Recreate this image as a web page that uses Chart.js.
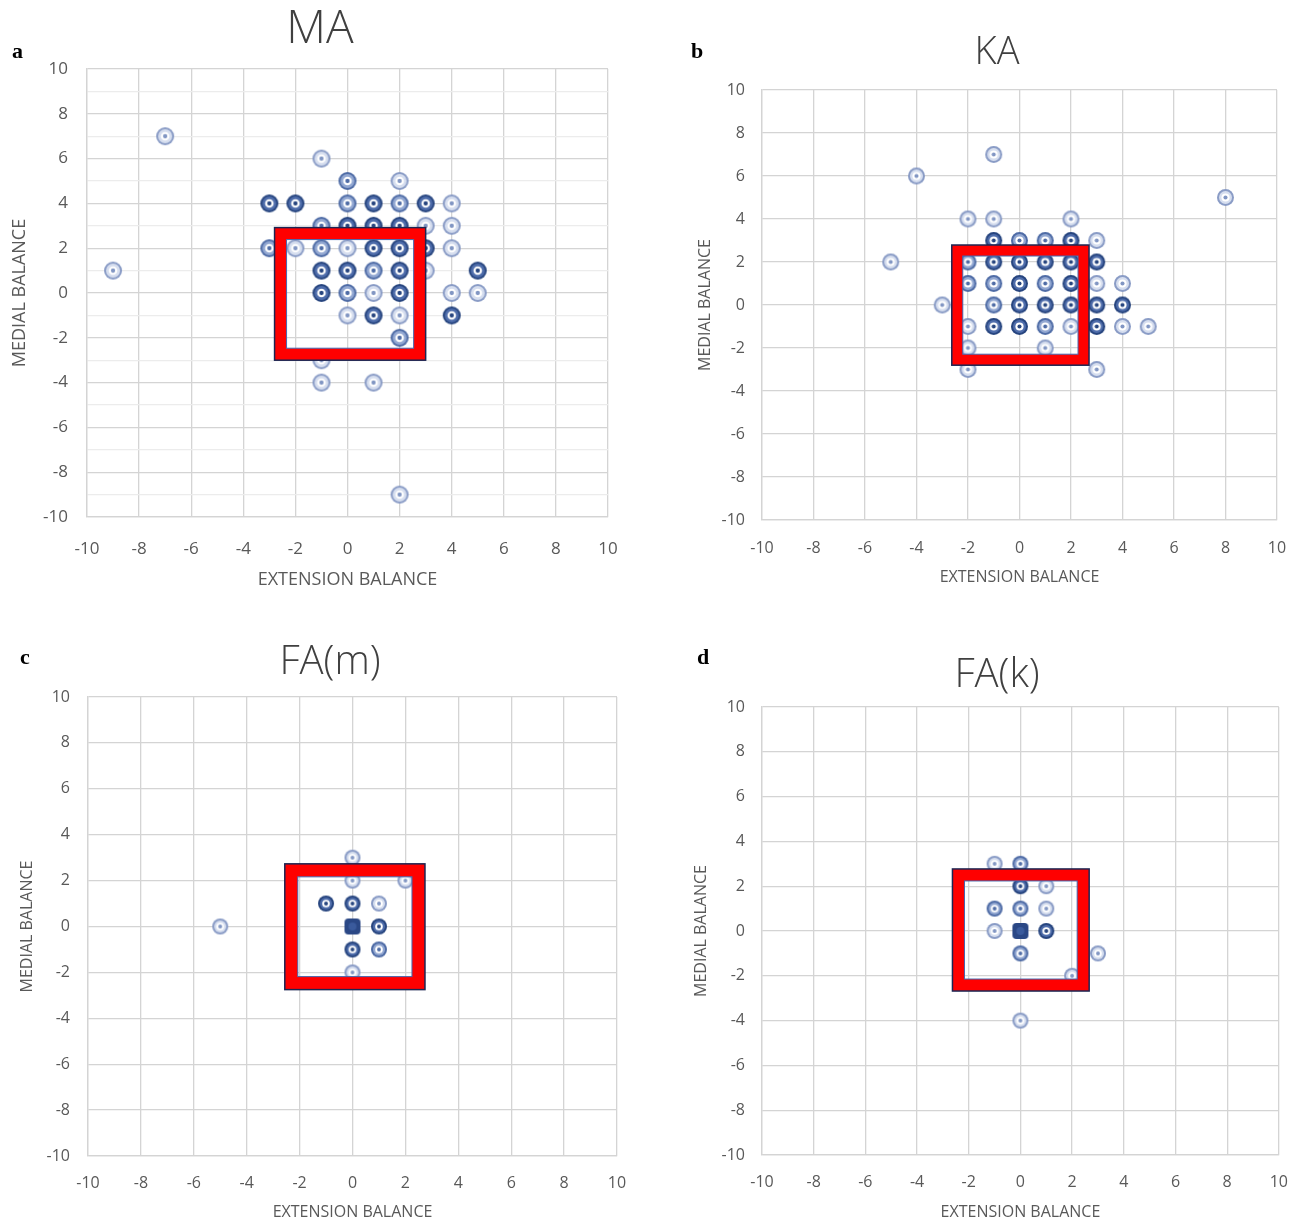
<!DOCTYPE html>
<html>
<head>
<meta charset="utf-8">
<script src="https://cdn.jsdelivr.net/npm/chart.js@4.4.1/dist/chart.umd.min.js"></script>
<style>
  body { margin: 0; background: #fff; width: 1306px; height: 1222px; position: relative; overflow: hidden; }
  canvas { position: absolute; }
</style>
</head>
<body>
<canvas id="ma" width="640" height="600" style="left:0;top:0"></canvas>
<canvas id="ka" width="618" height="600" style="left:688px;top:0"></canvas>
<canvas id="fam" width="660" height="602" style="left:0;top:620px"></canvas>
<canvas id="fak" width="618" height="602" style="left:688px;top:620px"></canvas>
<script>
// axis ticks shared by all four panels
const tickMin = -10, tickMax = 10, tickStep = 2;

// MA: extension balance (x), medial balance (y), shade = how dark the marker looks (overlap)
const maX = [-7, -9, -1, 0, 2,
  -3, -2, 0, 1, 2, 3, 4,
  -1, 0, 1, 2, 3, 4,
  -3, -2, -1, 0, 1, 2, 3, 4,
  -1, 0, 1, 2, 3, 5,
  -1, 0, 1, 2, 4, 5,
  0, 1, 2, 4,
  2, -1, -1, 1, 2];
const maY = [7, 1, 6, 5, 5,
  4, 4, 4, 4, 4, 4, 4,
  3, 3, 3, 3, 3, 3,
  2, 2, 2, 2, 2, 2, 2, 2,
  1, 1, 1, 1, 1, 1,
  0, 0, 0, 0, 0, 0,
  -1, -1, -1, -1,
  -2, -3, -4, -4, -9];
const maShade = [1, 1, 1, 2, 1,
  3, 3, 2, 3, 2, 3, 1,
  2, 3, 3, 3, 1, 1,
  2, 1, 2, 1, 3, 3, 3, 1,
  3, 3, 2, 3, 1, 3,
  3, 2, 1, 3, 1, 1,
  1, 3, 1, 3,
  2, 1, 1, 1, 1];

// KA
const kaX = [-1, -4, 8, -2, -1, 2,
  -1, 0, 1, 2, 3,
  -5, -2, -1, 0, 1, 2, 3,
  -2, -1, 0, 1, 2, 3, 4,
  -3, -1, 0, 1, 2, 3, 4,
  -2, -1, 0, 1, 2, 3, 4, 5,
  -2, 1, -2, 3];
const kaY = [7, 6, 5, 4, 4, 4,
  3, 3, 3, 3, 3,
  2, 2, 2, 2, 2, 2, 2,
  1, 1, 1, 1, 1, 1, 1,
  0, 0, 0, 0, 0, 0, 0,
  -1, -1, -1, -1, -1, -1, -1, -1,
  -2, -2, -3, -3];
const kaShade = [1, 1, 1, 1, 1, 1,
  3, 2, 2, 3, 1,
  1, 2, 3, 3, 3, 3, 3,
  2, 2, 3, 2, 3, 1, 1,
  1, 2, 3, 3, 3, 3, 3,
  1, 3, 3, 2, 1, 3, 1, 1,
  1, 1, 1, 1];

// FA(m)
const famX = [0, 0, 2, -1, 0, 1, 0, 1, 0, 1, 0, -5];
const famY = [3, 2, 2, 1, 1, 1, 0, 0, -1, -1, -2, 0];
const famShade = [1, 1, 1, 3, 3, 1, 4, 3, 3, 2, 1, 1];

// FA(k)
const fakX = [-1, 0, 0, 1, -1, 0, 1, -1, 0, 1, 0, 3, 2, 0];
const fakY = [3, 3, 2, 2, 1, 1, 1, 0, 0, 0, -1, -1, -2, -4];
const fakShade = [1, 2, 3, 1, 2, 2, 1, 1, 4, 3, 2, 1, 1, 1];

const FONT = '"Open Sans", "Noto Sans", sans-serif';
const GREY = '#595959';

function makeMarker(level, d) {
  const c = document.createElement('canvas');
  c.width = c.height = d + 2;
  const g = c.getContext('2d');
  const m = (d + 2) / 2, r = d / 2;
  const pal = {
    1: ['#8a9cc6', '#d6deef', '#8196c3'],
    2: ['#4f6ca6', '#93a8d2', '#4f6ca6'],
    3: ['#27457f', '#4f6dab', '#27457f'],
    4: ['#2a4785', '#3a5a9c', '#2a4785']
  }[level];
  const disc = (rad, col) => { g.beginPath(); g.arc(m, m, rad, 0, Math.PI * 2); g.fillStyle = col; g.fill(); };
  if (level === 4) {
    g.fillStyle = pal[0];
    g.beginPath();
    g.roundRect(m - r, m - r, d, d, 4);
    g.fill();
    disc(r * 0.5, pal[1]);
    return c;
  }
  disc(r, pal[0]);
  disc(r - 2, pal[1]);
  disc(r * 0.48, '#ffffff');
  disc(r * 0.24, pal[2]);
  return c;
}

const decoPlugin = {
  id: 'deco',
  afterDatasetsDraw(chart, args, o) {
    const { ctx, scales: { x, y } } = chart;
    const L = x.getPixelForValue(o.box[0]), R = x.getPixelForValue(o.box[1]);
    const B = y.getPixelForValue(o.box[2]), T = y.getPixelForValue(o.box[3]);
    const w = o.boxWidth;
    ctx.save();
    ctx.fillStyle = '#ff0000';
    ctx.beginPath();
    ctx.rect(L, T, R - L, B - T);
    ctx.rect(L + w, T + w, R - L - 2 * w, B - T - 2 * w);
    ctx.fill('evenodd');
    ctx.strokeStyle = '#1d2552';
    ctx.lineWidth = 1.5;
    ctx.strokeRect(L, T, R - L, B - T);
    ctx.strokeStyle = '#4467b0';
    ctx.lineWidth = 1;
    ctx.strokeRect(L + w, T + w, R - L - 2 * w, B - T - 2 * w);
    ctx.restore();
  },
  afterDraw(chart, args, o) {
    const ctx = chart.ctx;
    ctx.save();
    ctx.fillStyle = '#404040';
    ctx.textAlign = 'center';
    ctx.textBaseline = 'middle';
    ctx.font = '300 ' + o.titleSize + 'px ' + FONT;
    ctx.fillText(o.title, chart.width / 2, o.titleY);
    ctx.fillStyle = '#000';
    ctx.textAlign = 'left';
    ctx.font = 'bold 22px "Liberation Serif", "DejaVu Serif", serif';
    ctx.fillText(o.letter, o.letterX, o.letterY);
    ctx.restore();
  }
};

function makePanel(id, xs, ys, shades, p) {
  const markers = {};
  [1, 2, 3, 4].forEach(l => { markers[l] = makeMarker(l, p.marker); });
  const pts = xs.map((v, i) => ({ x: v, y: ys[i], lv: shades[i] }));
  const tickFont = { family: FONT, size: p.tickSize };
  const titleFont = { family: FONT, size: p.axisSize };
  new Chart(document.getElementById(id), {
    type: 'scatter',
    data: {
      datasets: [{
        data: pts,
        pointStyle: c => markers[c.raw.lv],
        pointRadius: p.marker / 2
      }]
    },
    options: {
      responsive: false,
      animation: false,
      events: [],
      layout: { padding: { left: 0, top: p.padTop, right: p.padRight, bottom: 0 } },
      plugins: {
        legend: { display: false },
        tooltip: { enabled: false },
        deco: p.deco
      },
      scales: {
        x: {
          type: 'linear', min: tickMin, max: tickMax,
          ticks: { stepSize: tickStep, padding: p.xTickPad, color: GREY, font: tickFont },
          grid: { color: '#d4d4d4', lineWidth: 1.3, drawTicks: false },
          border: { color: '#d4d4d4', width: 1.3 },
          title: { display: true, text: 'EXTENSION BALANCE', color: GREY, font: titleFont, padding: { top: 0, bottom: p.xTitlePad } },
          afterFit: s => { s.height = p.xHeight; }
        },
        y: {
          type: 'linear', min: tickMin, max: tickMax,
          ticks: {
            stepSize: p.minorY ? 1 : tickStep, autoSkip: false,
            callback: v => (v % 2 === 0 ? v : ''),
            padding: p.yTickPad, color: GREY, font: tickFont
          },
          grid: {
            color: c => (c.tick && c.tick.value % 2 !== 0 ? '#ececec' : '#d4d4d4'),
            lineWidth: 1.3, drawTicks: false
          },
          border: { color: '#d4d4d4', width: 1.3 },
          title: { display: true, text: 'MEDIAL BALANCE', color: GREY, font: titleFont, padding: { top: p.yTitlePad, bottom: 0 } },
          afterFit: s => { s.width = p.yWidth; }
        }
      }
    },
    plugins: [decoPlugin]
  });
}

makePanel('ma', maX, maY, maShade, {
  marker: 18, tickSize: 17, axisSize: 18, padTop: 69, padRight: 32, xHeight: 83, yWidth: 87,
  xTickPad: 22, yTickPad: 19, xTitlePad: 9, yTitlePad: 9, minorY: true,
  deco: { box: [-2.8, 3.0, -3.0, 2.92], boxWidth: 12, title: 'MA', titleSize: 46, titleY: 30, letter: 'a', letterX: 12, letterY: 52 }
});
makePanel('ka', kaX, kaY, kaShade, {
  marker: 17, tickSize: 16, axisSize: 16, padTop: 90, padRight: 29, xHeight: 80, yWidth: 74,
  xTickPad: 19, yTickPad: 17, xTitlePad: 13, yTitlePad: 8, minorY: false,
  deco: { box: [-2.63, 2.7, -2.8, 2.79], boxWidth: 11, title: 'KA', titleSize: 38, titleY: 53, letter: 'b', letterX: 3, letterY: 52 }
});
makePanel('fam', famX, famY, famShade, {
  marker: 16, tickSize: 16, axisSize: 16, padTop: 77, padRight: 43, xHeight: 66, yWidth: 88,
  xTickPad: 18, yTickPad: 18, xTitlePad: 0, yTitlePad: 18, minorY: false,
  deco: { box: [-2.56, 2.74, -2.75, 2.73], boxWidth: 13, title: 'FA(m)', titleSize: 40, titleY: 43, letter: 'c', letterX: 20, letterY: 38 }
});
makePanel('fak', fakX, fakY, fakShade, {
  marker: 16, tickSize: 16, axisSize: 16, padTop: 87, padRight: 23, xHeight: 67, yWidth: 74,
  xTickPad: 18, yTickPad: 17, xTitlePad: 0, yTitlePad: 4, minorY: false,
  deco: { box: [-2.63, 2.66, -2.68, 2.77], boxWidth: 12, title: 'FA(k)', titleSize: 40, titleY: 56, letter: 'd', letterX: 9, letterY: 38 }
});
</script>
</body>
</html>
